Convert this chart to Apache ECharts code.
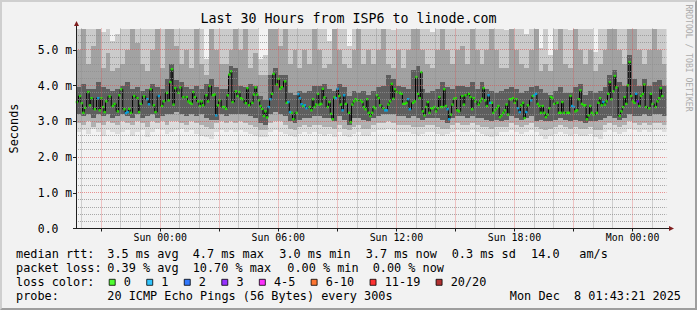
<!DOCTYPE html>
<html><head><meta charset="utf-8">
<script src="https://cdn.jsdelivr.net/npm/echarts@6/dist/echarts.min.js"></script>
<style>
html,body{margin:0;padding:0;background:#f2f2f2;}
#frame{position:absolute;left:0;top:0;width:697px;height:310px;box-sizing:border-box;background:#f2f2f2;border-top:2px solid #cfcfcf;border-left:2px solid #cfcfcf;border-right:2px solid #9e9e9e;border-bottom:2px solid #9e9e9e;}
#chart{position:absolute;left:0;top:0;width:697px;height:310px;}
</style></head><body>
<div id="frame"></div><div id="chart"></div>
<script>
const FONT = '"DejaVu Sans Mono", monospace';
const startHour = 19 + 43/60 + 21/3600;   // Sat 19:43:21
const spanHours = 30;
const stepHours = 5/60;                   // 300 s steps
const smokeColHours = 0.25;

// ---- median rtt readings (step index, ms, lost pings) ----
const medStep = [
0,2,3,4,5,7,8,9,11,13,14,15,16,17,18,20,22,23,25,26,27,29,30,31,32,33,35,37,38,39,41,43,44,45,47,48,50,52,53,55,56,57,58,59,60,62,63,65,67,68,69,70,71,72,74,75,76,77,79,80,81,83,84,85,86,87,89,
90,91,92,93,94,95,97,98,99,100,101,103,104,105,107,108,109,110,111,112,113,114,115,116,117,118,119,120,122,123,124,125,127,128,129,130,131,132,134,135,136,137,138,139,140,142,143,144,145,146,147,148,149,150,151,153,154,155,156,157,158,159,160,161,162,163,164,166,167,168,169,170,171,173,174,175,176,177,178,179,
180,181,182,183,184,185,187,188,189,190,191,192,193,194,195,197,198,199,200,201,202,203,205,206,207,208,209,210,211,212,213,214,215,216,217,218,219,220,221,222,223,224,225,226,227,228,229,230,231,232,233,235,236,237,239,240,241,242,243,245,246,247,248,249,250,251,252,253,254,255,256,257,258,259,260,261,262,263,264,265,266,267,268,269,
270,271,272,273,274,275,277,278,279,280,281,282,283,284,285,286,287,288,289,290,291,293,294,295,296,297,299,300,301,302,303,304,305,306,307,308,309,310,311,312,313,314,315,317,318,319,320,321,322,323,324,325,326,327,328,329,331,332,333,334,335,336,337,338,339,340,341,342,343,344,345,346,347,349,350,351,353,354,355,356,357];
const medValue = [
3.54,3.71,3.51,3.24,3.38,3.82,3.45,3.65,3.34,3.65,3.31,3.65,3.40,3.26,3.56,3.70,3.43,3.49,3.28,3.73,3.90,3.34,3.23,3.26,3.35,3.24,3.71,3.65,3.26,3.49,3.70,3.62,3.48,3.90,3.45,3.26,3.71,3.43,3.56,3.80,3.59,4.10,4.46,3.47,3.93,3.80,3.95,3.68,3.68,3.56,3.52,3.49,3.82,3.68,3.56,3.43,3.56,3.45,3.73,3.56,3.99,3.73,3.75,3.17,3.45,3.59,3.40,
3.40,3.35,3.73,4.31,4.40,3.54,3.84,3.71,3.82,3.65,3.62,3.51,3.93,3.45,3.52,3.75,3.95,3.75,3.59,3.43,3.35,3.15,3.28,3.11,3.40,3.62,3.77,4.33,4.03,4.19,3.91,3.96,4.12,3.52,3.54,3.26,3.24,3.06,3.24,3.76,3.65,3.48,3.43,3.45,3.37,3.40,3.31,3.62,3.40,3.47,3.77,3.47,3.49,3.91,3.67,3.40,3.54,3.21,3.06,3.67,3.65,3.91,3.71,3.47,3.31,3.73,3.49,3.24,2.98,3.47,3.56,3.62,3.59,3.59,3.54,3.40,3.34,3.62,3.24,3.15,
3.24,3.40,3.37,3.73,3.65,3.45,3.37,3.31,3.31,3.47,3.56,4.05,3.63,3.90,3.82,3.80,3.77,3.49,3.49,3.52,3.62,3.34,3.52,3.56,4.24,3.77,3.65,4.38,3.28,3.17,3.40,3.54,3.24,3.37,3.37,3.40,3.28,3.37,3.68,3.40,3.40,3.90,3.43,3.34,3.06,3.19,3.47,3.63,3.65,3.31,3.28,3.71,3.47,3.73,3.77,3.68,3.34,3.65,3.56,3.47,3.56,3.63,3.93,3.59,3.43,3.73,3.52,3.52,3.24,3.31,3.37,3.43,3.12,3.17,3.24,3.31,3.47,3.19,3.62,3.62,3.65,3.52,3.62,3.37,
3.26,3.45,3.52,3.09,3.26,3.45,3.59,3.71,3.73,3.77,3.49,3.43,3.24,3.43,3.24,3.12,3.19,3.37,3.68,3.65,3.49,3.52,3.24,3.24,3.54,3.24,3.24,3.24,3.71,3.43,3.40,3.28,3.31,3.62,3.87,3.49,3.45,3.45,3.06,3.17,3.43,3.24,3.19,3.24,3.52,3.65,3.45,3.54,3.47,3.56,3.77,4.10,3.62,3.84,4.27,3.95,3.15,3.28,3.40,3.68,3.49,4.01,4.66,3.71,3.56,3.52,3.77,3.56,3.43,3.71,3.77,4.03,3.40,3.37,3.77,3.49,3.40,3.56,3.65,3.93,3.71];
const medLoss = [
0,0,0,0,0,0,0,0,0,1,0,0,0,0,0,0,0,0,0,0,0,0,1,1,0,0,0,0,0,0,0,1,1,0,0,0,1,0,0,0,0,0,0,0,0,0,0,0,0,0,0,0,0,0,0,0,0,0,0,0,0,0,0,1,0,0,0,
0,0,0,0,0,0,0,0,0,0,0,0,0,0,0,0,0,0,0,0,0,0,0,0,1,1,0,0,0,0,0,0,0,0,1,1,0,0,0,1,1,1,0,1,1,0,0,0,0,0,0,0,0,0,0,0,0,0,0,0,1,1,0,0,1,1,0,0,0,0,0,0,0,0,0,0,0,0,0,0,
0,0,0,0,0,0,0,1,1,0,0,0,0,0,0,0,0,0,0,0,1,1,0,0,0,0,0,0,0,0,0,0,0,0,0,0,0,0,0,0,0,0,0,1,1,0,0,0,0,0,0,0,0,0,0,0,0,0,0,0,0,0,0,0,0,1,1,0,0,0,0,0,0,0,0,0,0,0,0,0,0,0,0,1,
1,0,0,0,1,0,1,0,1,1,0,0,0,0,0,0,0,0,0,0,0,0,0,0,0,0,0,0,0,1,1,0,0,0,0,0,0,0,0,0,0,0,0,0,0,0,0,1,0,0,0,0,0,0,0,0,0,0,0,0,0,0,0,0,0,0,1,3,0,0,0,0,0,0,0,0,0,0,0,0,0];

// ---- smoke (ping spread) per 15-minute column, ms ----
const smokeMin = [
2.70,2.75,2.65,2.80,2.70,2.60,2.75,2.70,2.65,2.70,2.75,2.60,2.70,2.75,2.55,2.70,2.80,2.75,2.65,2.70,2.75,2.80,2.70,2.75,2.65,2.60,2.55,2.50,2.70,2.75,
2.70,2.75,2.70,2.75,2.70,2.65,2.60,2.55,2.55,2.70,2.75,2.70,2.65,2.60,2.55,2.65,2.70,2.65,2.70,2.65,2.60,2.65,2.55,2.70,2.60,2.55,2.65,2.70,2.60,2.60,
2.70,2.75,2.75,2.80,2.75,2.70,2.70,2.70,2.65,2.60,2.65,2.70,2.70,2.65,2.60,2.65,2.70,2.75,2.70,2.70,2.75,2.70,2.65,2.60,2.55,2.60,2.70,2.70,2.75,2.70,
2.65,2.70,2.75,2.70,2.60,2.50,2.60,2.65,2.70,2.65,2.60,2.65,2.60,2.60,2.65,2.55,2.50,2.70,2.75,2.70,2.65,2.70,2.80,2.75,2.70,2.75,2.70,2.75,2.75,2.70];
const smokeLow = [
2.95,2.90,3.00,2.85,2.95,2.90,3.00,2.95,2.90,3.00,2.95,2.90,3.00,2.95,2.85,3.00,2.95,3.00,2.90,3.00,3.00,2.95,2.90,3.00,2.95,2.90,2.85,2.80,2.95,3.00,
2.95,3.00,2.95,3.00,2.95,2.90,2.85,2.75,2.75,2.95,3.00,3.00,2.90,2.80,2.75,2.85,2.90,2.85,2.90,2.90,2.85,2.85,2.80,2.90,2.80,2.75,2.85,2.90,2.80,2.80,
2.90,2.95,2.95,3.00,2.95,2.90,2.90,2.90,2.85,2.85,2.85,2.90,2.90,2.85,2.80,2.80,2.90,2.95,2.90,2.90,2.95,2.90,2.85,2.85,2.80,2.85,2.85,2.85,2.95,2.90,
2.85,2.90,2.95,2.85,2.80,2.75,2.80,2.85,2.90,2.85,2.80,2.85,2.80,2.80,2.85,2.75,2.75,2.90,2.95,2.90,2.85,2.90,3.00,2.95,2.90,2.95,2.90,2.95,2.95,2.90];
const smokeCoreLow = [
3.20,3.15,3.20,3.10,3.20,3.15,3.20,3.10,3.15,3.20,3.15,3.10,3.20,3.10,3.15,3.20,3.10,3.15,3.20,3.20,3.25,3.20,3.15,3.20,3.15,3.20,3.10,3.05,3.05,3.20,
3.15,3.20,3.20,3.20,3.20,3.15,3.10,2.95,2.90,3.20,3.25,3.20,3.15,3.00,2.95,3.05,3.10,3.10,3.15,3.15,3.10,3.10,3.00,3.15,3.05,2.90,3.10,3.10,3.05,3.00,
3.10,3.15,3.20,3.20,3.20,3.15,3.15,3.10,3.15,3.10,3.05,3.10,3.10,3.10,3.05,2.95,3.10,3.15,3.15,3.10,3.15,3.10,3.10,3.05,3.00,3.05,3.00,3.05,3.15,3.10,
3.05,3.10,3.15,3.00,3.05,3.00,3.00,3.05,3.10,3.05,3.00,3.05,3.00,2.95,3.00,3.00,3.05,3.10,3.15,3.10,3.05,3.10,3.20,3.15,3.15,3.20,3.15,3.20,3.20,3.15];
const smokeCoreHigh = [
3.95,4.05,3.90,3.90,4.10,3.95,3.90,3.85,3.90,4.00,4.10,3.90,3.95,3.85,3.90,4.05,3.95,3.90,4.20,4.60,4.15,4.10,3.95,3.90,4.00,3.90,4.05,4.20,3.95,3.90,
3.90,4.55,4.50,4.00,3.95,4.05,4.00,3.70,3.60,4.30,4.50,4.30,4.30,3.80,3.75,3.85,3.80,3.85,4.00,4.00,4.05,3.90,3.85,4.05,3.95,3.70,3.85,3.80,3.85,3.75,
3.85,3.95,4.00,4.30,4.20,4.00,3.95,3.90,4.45,4.55,3.90,3.80,3.85,3.90,4.10,3.95,3.90,4.00,4.00,3.95,4.10,3.90,4.10,3.90,3.85,3.80,3.85,3.90,3.95,3.90,
3.80,3.85,3.95,4.00,3.90,3.80,3.75,3.85,3.95,3.80,3.80,3.95,4.05,3.75,3.85,3.80,3.85,3.95,4.30,4.45,4.10,4.00,4.85,4.20,4.00,4.20,4.00,4.10,4.15,4.00];
const smokeUpper = [
5.00,5.70,4.60,5.10,5.70,4.50,4.90,4.40,4.50,4.60,5.00,5.70,5.20,4.60,4.40,5.00,5.60,4.50,5.70,5.80,5.10,4.60,5.00,4.50,5.60,4.60,4.30,5.70,5.00,4.60,
4.60,5.00,5.70,5.00,5.60,4.50,4.90,4.30,4.30,5.70,5.80,5.10,5.60,4.60,5.00,4.50,5.00,4.60,5.60,5.00,4.50,4.60,5.60,5.00,4.60,4.50,5.00,5.60,4.60,5.00,
4.60,5.00,5.70,4.60,4.50,5.00,4.50,5.00,5.70,5.80,5.00,4.60,4.50,5.00,5.60,5.00,4.60,5.00,5.10,4.60,5.60,5.00,4.60,5.00,5.60,5.00,4.50,4.50,5.60,5.00,
4.60,4.50,5.00,5.60,4.40,4.60,4.40,5.00,5.60,4.60,4.50,5.60,5.00,4.60,5.00,4.40,4.60,5.00,5.70,5.70,5.00,4.60,5.80,5.60,5.00,4.60,5.00,5.60,5.00,4.60];
const smokeMax = [
5.80,5.80,5.80,5.80,5.80,5.50,5.80,5.25,5.45,5.80,5.80,5.80,5.80,5.80,5.80,5.80,5.80,5.80,5.80,5.80,5.80,5.80,5.80,5.80,5.80,5.80,4.75,5.80,5.80,5.80,
5.80,5.80,5.80,5.80,5.80,5.80,5.80,4.75,4.85,5.80,5.80,5.80,5.80,5.80,5.80,5.80,5.80,5.80,5.80,5.80,5.80,5.25,5.80,5.80,5.80,5.10,5.80,5.80,5.80,5.80,
5.60,5.80,5.80,5.80,5.55,5.80,5.80,5.80,5.80,5.80,5.80,5.80,5.50,5.80,5.80,5.80,5.80,5.80,5.80,5.80,5.80,5.80,5.80,5.80,5.80,5.80,5.80,5.55,5.80,5.80,
5.80,5.45,5.80,5.80,5.05,5.80,4.85,5.80,5.80,5.80,5.55,5.80,5.80,5.80,5.80,4.95,5.80,5.80,5.80,5.80,5.80,5.80,5.80,5.80,5.80,5.80,5.80,5.80,5.80,5.80];

// ---- legend / axis texts ----
const lossLabels = ['0','1','2','3','4-5','6-10','11-19','20/20'];
const lossLow  = [0,1,2,3,4,6,11,20];
const lossHigh = [0,1,2,3,5,10,19,20];
const yLabelValues = [0,1,2,3,4,5];
const xLabelHours = [24,30,36,42,48];
const dayNames = ['Sat','Sun','Mon'];
const titleText = 'Last 30 Hours from ISP6 to linode.com';
const statLines = [
  ['median rtt:','3.5 ms avg','4.7 ms max','3.0 ms min','3.7 ms now','0.3 ms sd','14.0','am/s'],
  ['packet loss:','0.39 % avg','10.70 % max','0.00 % min','0.00 % now'],
  ['loss color:'],
  ['probe:','20 ICMP Echo Pings (56 Bytes) every 300s']
];
const stampText = 'Mon Dec  8 01:43:21 2025';
const watermarkText = 'RRDTOOL / TOBI OETIKER';

// ---- layout & styles ----
const statX = [
  [16,107.3,192.7,279.3,365.7,451.7,531,579.3],
  [16,107.3,192.7,287.3,372.7],
  [16],
  [16,107.3]
];
const statY = [254.3, 268.3, 282.3, 296];
const lossColors = ['#26ff00','#00b8ff','#0059ff','#7e00ff','#ff00ff','#ff5500','#ff0000','#a00000'];
const smokeShades = ['#dcdcdc','#b0b0b0','#5e5e5e','#a2a2a2','#cbcbcb'];
const MINOR = 'rgba(143,143,143,0.75)';
const MAJOR = 'rgba(222,79,79,0.6)';
const AXIS = '#1f1f1f';
const ARROW = '#801f1f';

const chart = echarts.init(document.getElementById('chart'), null, {renderer: 'svg'});

const smokeData = smokeMin.map((v, i) => [startHour + i * smokeColHours, v, smokeLow[i], smokeCoreLow[i], smokeCoreHigh[i], smokeUpper[i], smokeMax[i]]);
const medPoints = medStep.map((s, i) => [startHour + (s + 0.5) * stepHours, medValue[i], medLoss[i]]);

function renderSmoke(params, api) {
  const t0 = api.value(0), t1 = t0 + smokeColHours;
  const cs = params.coordSys;
  const kids = [];
  for (let k = 0; k < 5; k++) {
    const lo = api.value(k + 1), hi = api.value(k + 2);
    const a = api.coord([t0, hi]), b = api.coord([t1, lo]);
    const x0 = Math.round(a[0]), x1 = Math.round(b[0]);
    const y0 = Math.round(a[1]), y1 = Math.round(b[1]);
    const r = echarts.graphic.clipRectByRect(
      {x: x0, y: y0, width: x1 - x0, height: y1 - y0},
      {x: Math.round(cs.x), y: Math.round(cs.y), width: cs.width, height: cs.height});
    if (r) kids.push({type: 'rect', shape: r, style: {fill: smokeShades[k]}});
  }
  return {type: 'group', children: kids};
}

// grid lines: [value, orientation(0 = vertical at hour, 1 = horizontal at ms), major]
const gridData = [];
for (let h = Math.ceil(startHour); h < startHour + spanHours; h++) gridData.push([h, 0, h % 3 === 0 ? 1 : 0]);
for (let k = 1; k < 28; k++) gridData.push([k / 5, 1, k % 5 === 0 ? 1 : 0]);

function renderGrid(params, api) {
  const v = api.value(0), dir = api.value(1), major = api.value(2);
  const cs = params.coordSys;
  let shape;
  if (dir === 0) {
    const x = Math.floor(api.coord([v, 0])[0]) + 0.5;
    shape = {x1: x, y1: cs.y, x2: x, y2: cs.y + cs.height};
  } else {
    const y = Math.floor(api.coord([startHour, v])[1]) + 0.5;
    shape = {x1: cs.x, y1: y, x2: cs.x + cs.width, y2: y};
  }
  return {type: 'line', shape: shape, style: {stroke: major ? MAJOR : MINOR, lineWidth: 1, lineDash: [1, 1]}};
}

// axis arrows: [hour, ms, direction(0 = along x, 1 = along y)]
const arrowData = [[startHour + spanHours, 0, 0], [startHour, 5.6, 1]];
function renderArrow(params, api) {
  const p = api.coord([api.value(0), api.value(1)]);
  const dir = api.value(2);
  const x = Math.floor(p[0]) + 0.5, y = Math.floor(p[1]) + 0.5;
  if (dir === 0) {
    return {type: 'group', children: [
      {type: 'line', shape: {x1: x - 1, y1: y, x2: x + 3, y2: y}, style: {stroke: AXIS, lineWidth: 1}},
      {type: 'polygon', shape: {points: [[x + 2.5, y - 2.5], [x + 7.5, y], [x + 2.5, y + 2.5]]}, style: {fill: ARROW}}
    ]};
  }
  return {type: 'group', children: [
    {type: 'line', shape: {x1: x, y1: y + 1, x2: x, y2: y - 3}, style: {stroke: AXIS, lineWidth: 1}},
    {type: 'polygon', shape: {points: [[x - 2.5, y - 2.5], [x, y - 7.5], [x + 2.5, y - 2.5]]}, style: {fill: ARROW}}
  ]};
}

const xTickHours = [];
for (let h = Math.ceil(startHour); h < startHour + spanHours; h++) if (h % 3 === 0) xTickHours.push(h);

const series = [
  {type: 'custom', name: 'smoke', renderItem: renderSmoke, data: smokeData, encode: {x: 0, y: [1, 6]}, z: 1, silent: true},
  {type: 'line', name: 'median', data: medPoints.map(p => [p[0], p[1]]), step: 'middle', symbol: 'none',
   lineStyle: {color: '#000', width: 1}, z: 3, silent: true}
];
lossLabels.forEach((lab, c) => {
  series.push({
    type: 'scatter', name: lab, symbol: 'rect', symbolSize: [2.4, 2.4], z: 4, silent: true,
    itemStyle: {color: lossColors[c]},
    data: medPoints.filter(p => p[2] >= lossLow[c] && p[2] <= lossHigh[c]).map(p => [p[0], p[1]])
  });
});
series.push({type: 'custom', name: 'grid', renderItem: renderGrid, data: gridData, z: 5, silent: true, encode: {x: -1, y: -1}});
series.push({type: 'custom', name: 'arrows', renderItem: renderArrow, data: arrowData, z: 12, silent: true, clip: false, encode: {x: 0, y: 1}});

const graphics = [];
statLines.forEach((line, li) => {
  line.forEach((t, k) => graphics.push({type: 'text', x: statX[li][k], y: statY[li], silent: true,
    style: {text: t, fontFamily: FONT, fontSize: 11.85, lineHeight: 12, fill: '#000', align: 'left', verticalAlign: 'middle', textAlign: 'left', textVerticalAlign: 'middle'}}));
});
graphics.push({type: 'text', x: 681, y: 296, silent: true,
  style: {text: stampText, fontFamily: FONT, fontSize: 11.85, lineHeight: 12, fill: '#000', align: 'right', verticalAlign: 'middle', textAlign: 'right', textVerticalAlign: 'middle'}});
graphics.push({type: 'text', x: 688.5, y: 58, rotation: -Math.PI / 2, silent: true,
  style: {text: watermarkText, fontFamily: FONT, fontSize: 8.1, fill: '#ababab', align: 'center', verticalAlign: 'middle', textAlign: 'center', textVerticalAlign: 'middle'}});

chart.setOption({
  animation: false,
  backgroundColor: 'transparent',
  title: {text: titleText, left: 'center', top: 12, padding: 0,
    textStyle: {fontFamily: FONT, fontSize: 13.3, fontWeight: 'normal', color: '#000'}},
  grid: {left: 66.5, top: 28.5, width: 600, height: 200, containLabel: false},
  legend: {left: 108.7, top: 276.3, padding: 0, itemWidth: 6, itemHeight: 6, itemGap: 15.3, icon: 'rect', selectedMode: false,
    itemStyle: {borderColor: '#000', borderWidth: 1},
    textStyle: {fontFamily: FONT, fontSize: 11.85, lineHeight: 12, color: '#000', padding: [0, 0, 0, 3.6]},
    data: lossLabels},
  xAxis: {type: 'value', min: startHour, max: startHour + spanHours, z: 10,
    axisLine: {show: true, onZero: false, lineStyle: {color: AXIS, width: 1}},
    axisTick: {show: true, customValues: xTickHours, length: 3, lineStyle: {color: AXIS}},
    axisLabel: {customValues: xLabelHours, margin: 4, fontFamily: FONT, fontSize: 9.9, color: '#000',
      formatter: v => { const h = Math.round(v); return dayNames[Math.floor(h / 24)] + ' ' + String(h % 24).padStart(2, '0') + ':00'; }},
    splitLine: {show: false}},
  yAxis: {type: 'value', min: 0, max: 5.6, z: 10,
    name: 'Seconds', nameLocation: 'middle', nameRotate: 90, nameGap: 56,
    nameTextStyle: {fontFamily: FONT, fontSize: 11.85, color: '#000'},
    axisLine: {show: true, onZero: false, lineStyle: {color: AXIS, width: 1}},
    axisTick: {show: true, customValues: yLabelValues, length: 3, lineStyle: {color: AXIS}},
    axisLabel: {customValues: yLabelValues, align: 'left', margin: 38.2, fontFamily: FONT, fontSize: 11.4, color: '#000',
      formatter: v => v === 0 ? '0.0' : v.toFixed(1) + ' m'},
    splitLine: {show: false}},
  graphic: graphics,
  series: series
});
</script></body></html>
